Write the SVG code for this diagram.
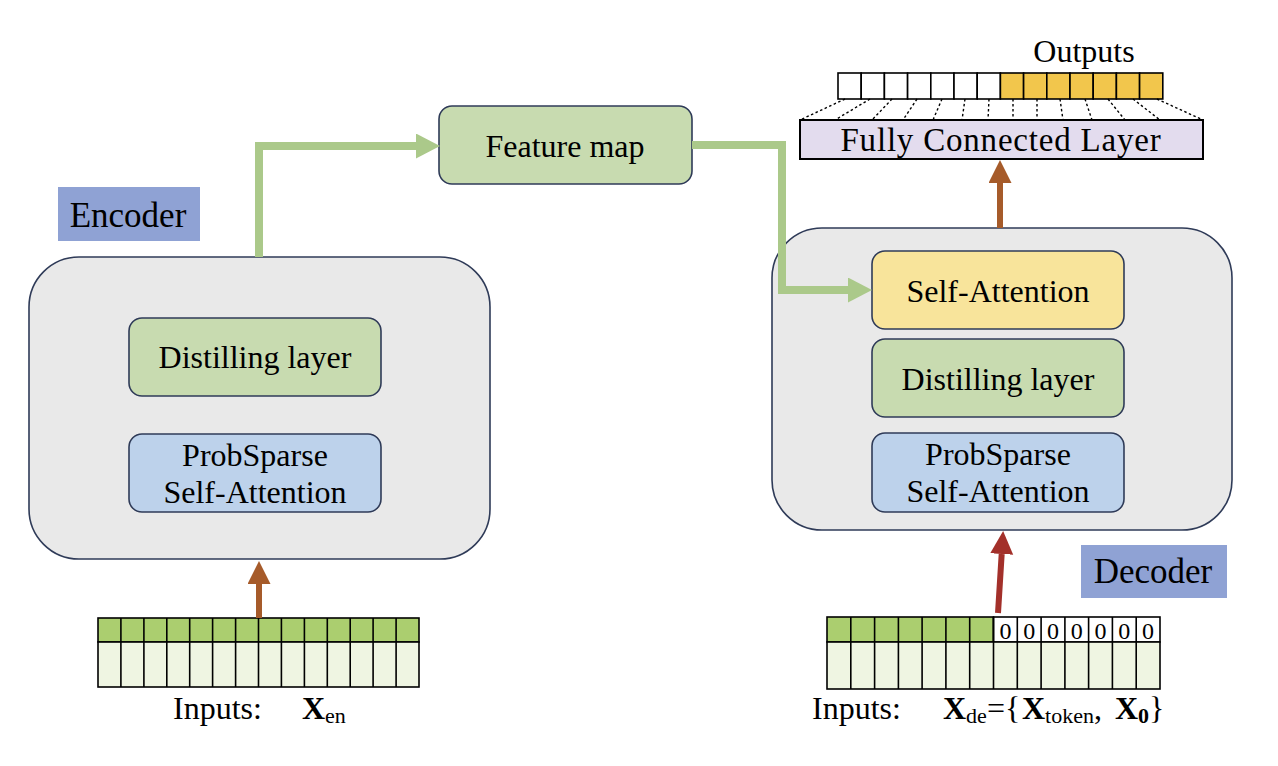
<svg xmlns="http://www.w3.org/2000/svg" width="1278" height="766" viewBox="0 0 1278 766">
<style>
  text { font-family: "Liberation Serif", "Times New Roman", serif; fill: #000; }
  .t32 { font-size: 32px; }
  .big { fill: #E9E9E9; stroke: #2F3B58; stroke-width: 1.6; }
  .inner { stroke: #2F3B58; stroke-width: 1.6; }
  .green { fill: #C8DBB0; }
  .blue { fill: #BDD2EB; }
  .yellow { fill: #F8E49B; }
  .label { fill: #8FA2D4; }
  .cell { stroke: #000; stroke-width: 1.6; }
  .gtop { fill: #ABCE6F; }
  .gbot { fill: #EFF5E2; }
  .wcell { fill: #FFFFFF; }
  .ycell { fill: #F2C64C; }
  .dot { stroke: #000; stroke-width: 1.4; stroke-dasharray: 2.5 2.5; fill: none; }
  .garrow { fill: none; stroke: #ABC98A; stroke-width: 8; }
  .barrow { stroke: #A65B2A; stroke-width: 6; }
  .rarrow { stroke: #A3302A; stroke-width: 6; }
  .zero { font-size: 24px; text-anchor: middle; }
</style>
<defs>
  <marker id="hg" markerUnits="userSpaceOnUse" markerWidth="26" markerHeight="26" refX="0" refY="12.5" orient="auto">
    <path d="M0,0 L24,12.5 L0,25 z" fill="#ABC98A"/>
  </marker>
  <marker id="hb" markerUnits="userSpaceOnUse" markerWidth="24" markerHeight="24" refX="0" refY="11.5" orient="auto">
    <path d="M0,0 L23,11.5 L0,23 z" fill="#A65B2A"/>
  </marker>
  <marker id="hr" markerUnits="userSpaceOnUse" markerWidth="24" markerHeight="24" refX="0" refY="11.5" orient="auto">
    <path d="M0,0 L23,11.5 L0,23 z" fill="#A3302A"/>
  </marker>
</defs>
<rect width="1278" height="766" fill="#FFFFFF"/>

<!-- Encoder -->
<g id="encoder">
  <rect class="big" x="29" y="257" width="461" height="302" rx="50"/>
  <g id="enc-distilling">
    <rect class="inner green" x="129" y="318" width="252" height="78" rx="13"/>
    <text class="t32" x="255" y="368" text-anchor="middle">Distilling layer</text>
  </g>
  <g id="enc-probsparse">
    <rect class="inner blue" x="129" y="434" width="252" height="78" rx="13"/>
    <text class="t32" x="255" y="466" text-anchor="middle">ProbSparse</text>
    <text class="t32" x="255" y="503" text-anchor="middle">Self-Attention</text>
  </g>
</g>
<g id="encoder-label">
  <rect class="label" x="58" y="187" width="142" height="54"/>
  <text x="128" y="227" font-size="35" text-anchor="middle">Encoder</text>
</g>

<!-- Feature map -->
<g id="feature-map">
  <rect class="inner green" x="439" y="106" width="253" height="78" rx="13"/>
  <text class="t32" x="565" y="157" text-anchor="middle">Feature map</text>
</g>

<!-- Decoder -->
<g id="decoder">
  <rect class="big" x="772" y="228" width="460" height="302" rx="50"/>
  <g id="dec-selfattention">
    <rect class="inner yellow" x="872" y="251" width="252" height="78" rx="13"/>
    <text class="t32" x="998" y="302" text-anchor="middle">Self-Attention</text>
  </g>
  <g id="dec-distilling">
    <rect class="inner green" x="872" y="339" width="252" height="78" rx="13"/>
    <text class="t32" x="998" y="390" text-anchor="middle">Distilling layer</text>
  </g>
  <g id="dec-probsparse">
    <rect class="inner blue" x="872" y="433" width="252" height="79" rx="13"/>
    <text class="t32" x="998" y="465" text-anchor="middle">ProbSparse</text>
    <text class="t32" x="998" y="502" text-anchor="middle">Self-Attention</text>
  </g>
</g>
<g id="decoder-label">
  <rect class="label" x="1081" y="545" width="146" height="53"/>
  <text x="1153" y="583" font-size="35" text-anchor="middle">Decoder</text>
</g>

<!-- Fully connected + outputs -->
<g id="fc-layer">
  <rect x="800" y="120" width="403" height="39" fill="#E3DCEE" stroke="#000" stroke-width="2"/>
  <text x="1001" y="151" font-size="33" letter-spacing="0.8" text-anchor="middle">Fully Connected Layer</text>
</g>
<g id="outputs">
  <g class="cell">
    <rect class="wcell" x="838" y="73" width="23.2" height="26"/>
    <rect class="wcell" x="861.2" y="73" width="23.2" height="26"/>
    <rect class="wcell" x="884.4" y="73" width="23.2" height="26"/>
    <rect class="wcell" x="907.6" y="73" width="23.2" height="26"/>
    <rect class="wcell" x="930.8" y="73" width="23.2" height="26"/>
    <rect class="wcell" x="954" y="73" width="23.2" height="26"/>
    <rect class="wcell" x="977.2" y="73" width="23.2" height="26"/>
    <rect class="ycell" x="1000.4" y="73" width="23.2" height="26"/>
    <rect class="ycell" x="1023.6" y="73" width="23.2" height="26"/>
    <rect class="ycell" x="1046.8" y="73" width="23.2" height="26"/>
    <rect class="ycell" x="1070" y="73" width="23.2" height="26"/>
    <rect class="ycell" x="1093.2" y="73" width="23.2" height="26"/>
    <rect class="ycell" x="1116.4" y="73" width="23.2" height="26"/>
    <rect class="ycell" x="1139.6" y="73" width="23.2" height="26"/>
  </g>
  <text class="t32" x="1084" y="62" text-anchor="middle">Outputs</text>
  <g id="fc-dots">
    <path class="dot" d="M845,99 L800,120"/>
    <path class="dot" d="M870,99 L835,120"/>
    <path class="dot" d="M892,99 L872,120"/>
    <path class="dot" d="M917,99 L903,120"/>
    <path class="dot" d="M942,99 L933,120"/>
    <path class="dot" d="M965,99 L962,120"/>
    <path class="dot" d="M989,99 L988,120"/>
    <path class="dot" d="M1013,99 L1013,120"/>
    <path class="dot" d="M1037,99 L1037,120"/>
    <path class="dot" d="M1060,99 L1063,120"/>
    <path class="dot" d="M1085,99 L1092,120"/>
    <path class="dot" d="M1108,99 L1125,120"/>
    <path class="dot" d="M1133,99 L1160,120"/>
    <path class="dot" d="M1157,99 L1203,120"/>
  </g>
</g>

<!-- Encoder inputs -->
<g id="encoder-inputs">
  <g class="cell">
    <rect class="gtop" x="98" y="618" width="321" height="24"/>
    <rect class="gbot" x="98" y="642" width="321" height="45"/>
    <path d="M120.9,618 V687 M143.9,618 V687 M166.8,618 V687 M189.7,618 V687 M212.6,618 V687 M235.6,618 V687 M258.5,618 V687 M281.4,618 V687 M304.4,618 V687 M327.3,618 V687 M350.2,618 V687 M373.1,618 V687 M396.1,618 V687"/>
  </g>
  <text class="t32" x="173" y="719">Inputs:</text>
  <text x="302" y="719"><tspan font-size="32" font-weight="bold">X</tspan><tspan font-size="22" dy="4">en</tspan></text>
</g>

<!-- Decoder inputs -->
<g id="decoder-inputs">
  <g class="cell">
    <rect class="gtop" x="827" y="617" width="166.5" height="25"/>
    <rect class="wcell" x="993.5" y="617" width="166.5" height="25"/>
    <rect class="gbot" x="827" y="642" width="333" height="47"/>
    <path d="M850.8,617 V689 M874.6,617 V689 M898.4,617 V689 M922.1,617 V689 M945.9,617 V689 M969.7,617 V689 M993.5,617 V689 M1017.3,617 V689 M1041.1,617 V689 M1064.9,617 V689 M1088.6,617 V689 M1112.4,617 V689 M1136.2,617 V689"/>
  </g>
  <text class="zero" x="1005.4" y="639">0</text>
  <text class="zero" x="1029.2" y="639">0</text>
  <text class="zero" x="1053" y="639">0</text>
  <text class="zero" x="1076.8" y="639">0</text>
  <text class="zero" x="1100.5" y="639">0</text>
  <text class="zero" x="1124.3" y="639">0</text>
  <text class="zero" x="1148.1" y="639">0</text>
  <text class="t32" x="812" y="719">Inputs:</text>
  <text y="719"><tspan x="943" font-size="32" font-weight="bold">X</tspan><tspan font-size="22" dy="4">de</tspan><tspan font-size="32" dy="-4">={</tspan><tspan x="1022" font-size="32" font-weight="bold">X</tspan><tspan font-size="22" dy="4">token</tspan><tspan font-size="32" dy="-4">,</tspan><tspan x="1115" font-size="32" font-weight="bold">X</tspan><tspan font-size="22" font-weight="bold" dy="4">0</tspan><tspan font-size="32" dy="-4">}</tspan></text>
</g>

<!-- Connectors -->
<g id="connectors">
  <path class="garrow" d="M259,257 V146 H416" marker-end="url(#hg)"/>
  <path class="garrow" d="M692,145 H782 V290 H848" marker-end="url(#hg)"/>
  <line class="barrow" x1="259" y1="618" x2="259" y2="584" marker-end="url(#hb)"/>
  <line class="barrow" x1="1000" y1="228" x2="1000" y2="183" marker-end="url(#hb)"/>
  <line class="rarrow" x1="998" y1="613" x2="1001.7" y2="554" marker-end="url(#hr)"/>
</g>
</svg>
